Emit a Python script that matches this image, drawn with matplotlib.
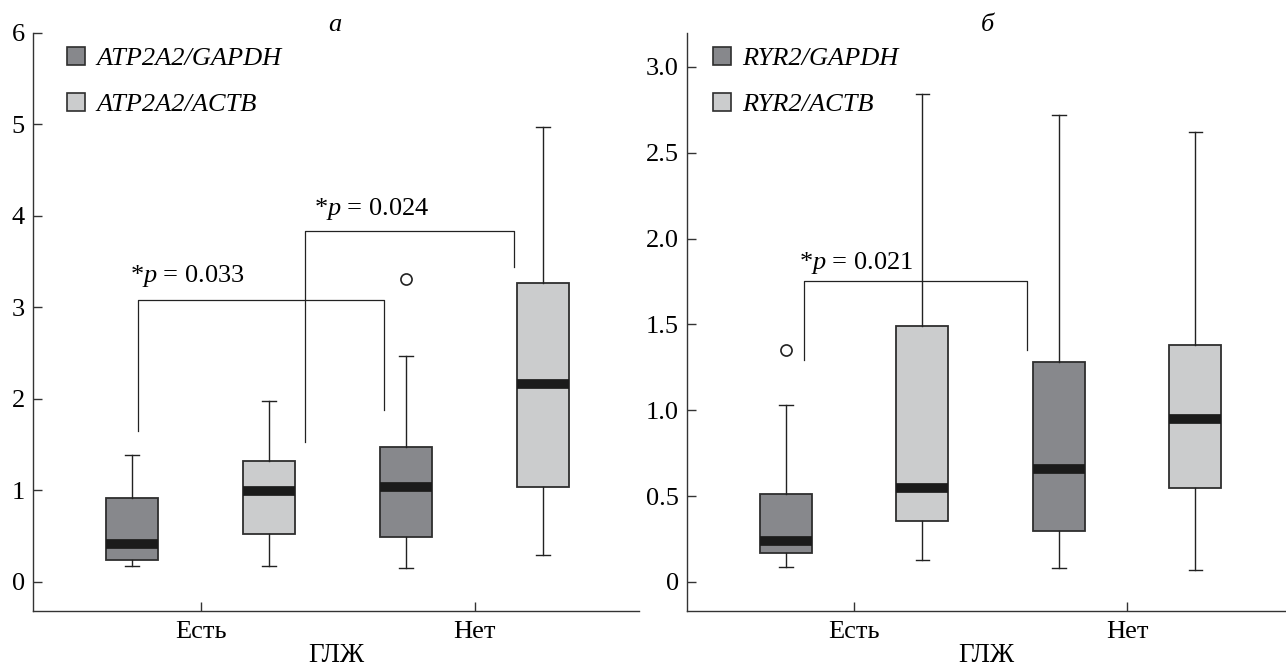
import matplotlib
matplotlib.use("Agg")
import matplotlib.pyplot as plt
from matplotlib.patches import Patch

plt.rcParams['font.family'] = ['Liberation Serif', 'DejaVu Serif']
plt.rcParams['mathtext.fontset'] = 'custom'
plt.rcParams['mathtext.it'] = 'Liberation Serif:italic'
plt.rcParams['mathtext.rm'] = 'Liberation Serif'

# groups on the x axis
groups = ['Есть', 'Нет']

# panel a: ATP2A2 (box stats)
a_gapdh_lo = [0.17, 0.15]
a_gapdh_q1 = [0.24, 0.49]
a_gapdh_med = [0.42, 1.04]
a_gapdh_q3 = [0.92, 1.48]
a_gapdh_hi = [1.39, 2.47]
a_gapdh_out = [[], [3.31]]

a_actb_lo = [0.17, 0.30]
a_actb_q1 = [0.52, 1.04]
a_actb_med = [0.99, 2.16]
a_actb_q3 = [1.32, 3.27]
a_actb_hi = [1.98, 4.97]
a_actb_out = [[], []]

# panel b: RYR2
b_gapdh_lo = [0.09, 0.08]
b_gapdh_q1 = [0.17, 0.295]
b_gapdh_med = [0.24, 0.66]
b_gapdh_q3 = [0.51, 1.28]
b_gapdh_hi = [1.03, 2.72]
b_gapdh_out = [[1.35], []]

b_actb_lo = [0.13, 0.07]
b_actb_q1 = [0.355, 0.55]
b_actb_med = [0.55, 0.95]
b_actb_q3 = [1.49, 1.38]
b_actb_hi = [2.84, 2.62]
b_actb_out = [[], []]

# significance brackets: (x left, x right, y top, left leg end, right leg end, label, text x, text y)
a_brackets = [(-0.228, 0.668, 3.08, 1.65, 1.88, '*$p$ = 0.033', -0.048, 3.34),
              (0.379, 1.143, 3.84, 1.53, 3.44, '*$p$ = 0.024', 0.623, 4.08)]
b_brackets = [(-0.184, 0.633, 1.75, 1.29, 1.35, '*$p$ = 0.021', 0.008, 1.86)]

dark = '#87888c'
light = '#cbcccd'
edge = '#2e2e2e'


def make_stats(lo, q1, med, q3, hi, out):
    return [dict(whislo=lo[i], q1=q1[i], med=med[i], q3=q3[i], whishi=hi[i], fliers=out[i])
            for i in range(len(lo))]


def draw_panel(ax, gapdh, actb, labels, brackets, ylim, yticks, yticklabels, title, leg_x):
    pos_g = [i - 0.25 for i in range(len(groups))]
    pos_a = [i + 0.25 for i in range(len(groups))]
    for stats, pos, col in [(gapdh, pos_g, dark), (actb, pos_a, light)]:
        ax.bxp(stats, positions=pos, widths=0.19, patch_artist=True, capwidths=0.05,
               boxprops=dict(facecolor=col, edgecolor=edge, linewidth=1.3),
               medianprops=dict(color='#1b1b1b', linewidth=7, solid_capstyle='butt'),
               whiskerprops=dict(color='#222222', linewidth=1.0),
               capprops=dict(color='#222222', linewidth=1.0),
               flierprops=dict(marker='o', markerfacecolor='white', markeredgecolor='#222222',
                               markersize=8, markeredgewidth=1.2))
    for x1, x2, yt, y1, y2, txt, tx, ty in brackets:
        ax.plot([x1, x1, x2, x2], [y1, yt, yt, y2], color='#222222', linewidth=0.9)
        ax.text(tx, ty, txt, ha='center', va='center', fontsize=19)

    ax.set_xlim(-0.612, 1.60)
    ax.set_ylim(*ylim)
    ax.set_xticks(range(len(groups)))
    ax.set_xticklabels(groups)
    ax.set_yticks(yticks)
    ax.set_yticklabels(yticklabels)
    ax.tick_params(direction='in', length=6.5, width=1.0, color='#333333', labelsize=19)
    ax.tick_params(axis='x', pad=7, labelsize=19)
    ax.tick_params(axis='y', pad=6)
    ax.spines['top'].set_visible(False)
    ax.spines['right'].set_visible(False)
    for s in ['left', 'bottom']:
        ax.spines[s].set_color('#333333')
        ax.spines[s].set_linewidth(1.0)
    ax.spines['left'].set_bounds(ylim[0], ylim[1])
    ax.set_xlabel('ГЛЖ', fontsize=19.5, labelpad=0.5)

    ax.text(0.49, 1.014, title, transform=ax.get_xaxis_transform(), ha='center', va='center',
            fontsize=19, style='italic')

    handles = [Patch(facecolor=dark, edgecolor=edge, linewidth=1.2),
               Patch(facecolor=light, edgecolor=edge, linewidth=1.2)]
    ax.legend(handles, labels, loc='upper left', bbox_to_anchor=(leg_x, 0.976), frameon=False,
              prop=dict(family='Liberation Serif', style='italic', size=19),
              handlelength=0.68, handleheight=0.68, handletextpad=0.45, labelspacing=0.87,
              borderpad=0, borderaxespad=0)


fig = plt.figure(figsize=(12.86, 6.69), dpi=100)
ax_a = fig.add_axes([0.0257, 0.0867, 0.4712, 0.864])
ax_b = fig.add_axes([0.5342, 0.0867, 0.4658, 0.864])

draw_panel(ax_a,
           make_stats(a_gapdh_lo, a_gapdh_q1, a_gapdh_med, a_gapdh_q3, a_gapdh_hi, a_gapdh_out),
           make_stats(a_actb_lo, a_actb_q1, a_actb_med, a_actb_q3, a_actb_hi, a_actb_out),
           ['ATP2A2/GAPDH', 'ATP2A2/ACTB'], a_brackets,
           (-0.317, 6.0), [0, 1, 2, 3, 4, 5, 6], ['0', '1', '2', '3', '4', '5', '6'], 'а', 0.056)

draw_panel(ax_b,
           make_stats(b_gapdh_lo, b_gapdh_q1, b_gapdh_med, b_gapdh_q3, b_gapdh_hi, b_gapdh_out),
           make_stats(b_actb_lo, b_actb_q1, b_actb_med, b_actb_q3, b_actb_hi, b_actb_out),
           ['RYR2/GAPDH', 'RYR2/ACTB'], b_brackets,
           (-0.169, 3.197), [0, 0.5, 1.0, 1.5, 2.0, 2.5, 3.0],
           ['0', '0.5', '1.0', '1.5', '2.0', '2.5', '3.0'], 'б', 0.043)
ax_b.set_xlim(-0.612, 1.582)

fig.savefig('out.png', dpi=100)
